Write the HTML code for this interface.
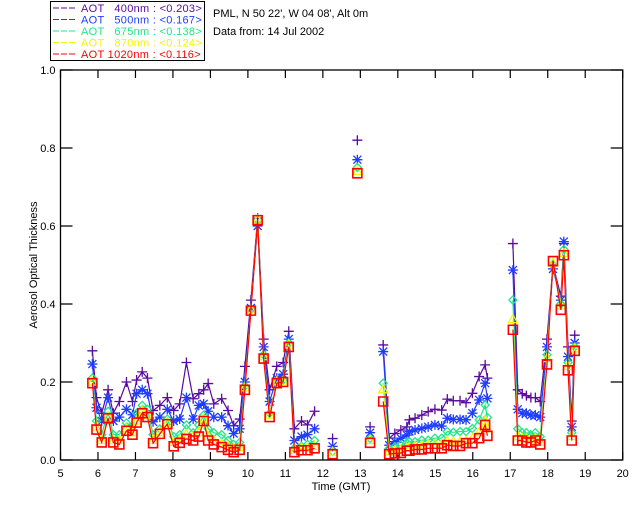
<!DOCTYPE html>
<html><head><meta charset="utf-8"><style>
body{margin:0;background:#fff;}
svg{display:block;font-family:"Liberation Sans",sans-serif;}
</style></head><body>
<svg id="chart" width="640" height="512" viewBox="0 0 640 512" xmlns="http://www.w3.org/2000/svg">
<rect width="640" height="512" fill="#fff"/>
<g id="legend">
<rect x="50.5" y="1.5" width="154" height="59" fill="#fff" stroke="#000" stroke-width="1"/>
</g>
<text x="213" y="17" font-size="11">PML, N 50 22', W 04 08', Alt 0m</text>
<text x="213" y="35" font-size="11">Data from: 14 Jul 2002</text>
<g id="axes"></g>
<g id="series"></g>
<text x="341" y="490" font-size="11" text-anchor="middle">Time (GMT)</text>
<text transform="translate(37,265) rotate(-90)" font-size="11" text-anchor="middle">Aerosol Optical Thickness</text>
</svg>
<script>
const times = [5.85,5.96,6.1,6.27,6.41,6.57,6.76,6.92,7.03,7.18,7.32,7.47,7.65,7.85,8.02,8.18,8.36,8.54,8.69,8.82,8.94,9.09,9.3,9.47,9.62,9.78,9.92,10.08,10.26,10.42,10.58,10.77,10.94,11.09,11.24,11.43,11.59,11.78,null,12.26,null,12.92,null,13.26,null,13.61,13.77,13.92,14.08,14.24,14.31,14.46,14.64,14.81,14.99,15.17,15.32,15.48,15.66,15.82,15.99,16.17,16.33,16.39,null,17.07,17.2,17.32,17.43,17.55,17.67,17.8,17.98,18.14,18.35,18.43,18.54,18.64,18.72];
const aot400 = [0.28,0.16,0.12,0.18,0.12,0.15,0.2,0.15,0.205,0.226,0.21,0.127,0.14,0.16,0.127,0.144,0.25,0.157,0.17,0.18,0.196,0.144,0.157,0.127,0.088,0.105,0.24,0.41,0.62,0.31,0.18,0.24,0.25,0.33,0.08,0.1,0.09,0.125,null,0.055,null,0.82,null,0.085,null,0.295,0.056,0.068,0.077,0.085,0.103,0.107,0.115,0.124,0.13,0.128,0.156,0.152,0.152,0.147,0.171,0.214,0.244,0.21,null,0.555,0.18,0.17,0.165,0.16,0.16,0.15,0.31,0.5,0.42,0.555,0.29,0.1,0.32];
const aot500 = [0.246,0.134,0.1,0.16,0.1,0.11,0.13,0.116,0.17,0.18,0.17,0.098,0.11,0.13,0.1,0.105,0.16,0.105,0.14,0.144,0.125,0.11,0.11,0.088,0.068,0.08,0.2,0.39,0.6,0.29,0.15,0.21,0.22,0.31,0.05,0.06,0.065,0.08,null,0.035,null,0.77,null,0.07,null,0.278,0.038,0.047,0.056,0.064,0.073,0.077,0.081,0.085,0.09,0.087,0.107,0.104,0.104,0.103,0.12,0.154,0.197,0.158,null,0.487,0.13,0.12,0.12,0.115,0.115,0.11,0.29,0.49,0.41,0.56,0.265,0.085,0.3];
const aot675 = [0.21,0.1,0.065,0.125,0.065,0.065,0.095,0.085,0.12,0.14,0.13,0.065,0.08,0.105,0.06,0.065,0.09,0.07,0.09,0.115,0.08,0.07,0.065,0.05,0.04,0.045,0.19,0.385,0.615,0.27,0.12,0.2,0.205,0.3,0.03,0.035,0.04,0.05,null,0.022,null,0.75,null,0.055,null,0.197,0.03,0.034,0.038,0.044,0.047,0.047,0.051,0.051,0.056,0.056,0.073,0.071,0.073,0.073,0.081,0.103,0.141,0.109,null,0.41,0.08,0.07,0.07,0.065,0.07,0.06,0.27,0.5,0.4,0.54,0.25,0.07,0.29];
const aot870 = [0.2,0.085,0.05,0.11,0.05,0.05,0.08,0.07,0.1,0.125,0.115,0.05,0.07,0.095,0.045,0.05,0.065,0.06,0.07,0.105,0.06,0.05,0.04,0.035,0.03,0.032,0.185,0.385,0.615,0.265,0.115,0.2,0.2,0.295,0.025,0.03,0.03,0.035,null,0.02,null,0.74,null,0.05,null,0.18,0.021,0.024,0.026,0.03,0.032,0.034,0.036,0.038,0.04,0.04,0.048,0.046,0.046,0.048,0.055,0.07,0.1,0.08,null,0.36,0.06,0.055,0.055,0.05,0.055,0.045,0.26,0.505,0.395,0.53,0.24,0.06,0.285];
const aot1020 = [0.197,0.078,0.045,0.107,0.045,0.04,0.075,0.065,0.096,0.12,0.11,0.043,0.067,0.092,0.035,0.044,0.054,0.05,0.06,0.1,0.05,0.04,0.033,0.026,0.02,0.026,0.18,0.383,0.615,0.26,0.11,0.197,0.2,0.29,0.02,0.025,0.025,0.03,null,0.015,null,0.735,null,0.044,null,0.15,0.015,0.017,0.018,0.024,0.024,0.027,0.027,0.03,0.03,0.03,0.038,0.036,0.036,0.043,0.043,0.056,0.09,0.062,null,0.334,0.05,0.05,0.045,0.045,0.05,0.04,0.245,0.51,0.385,0.525,0.23,0.05,0.28];
const seriesNames = ["400nm","500nm","675nm","870nm","1020nm"];
const seriesMeans = ["0.203","0.167","0.138","0.124","0.116"];
const xTicks = [5,6,7,8,9,10,11,12,13,14,15,16,17,18,19,20];
const yTicks = [0.0,0.2,0.4,0.6,0.8,1.0];

const NS="http://www.w3.org/2000/svg";
const X0=60.5,X1=622.7,Y0=460,Y1=70;
function xs(t){return X0+(t-5)/15*(X1-X0);}
function ys(v){return Y0-v*(Y0-Y1);}
function mk(tag,attrs,parent){const e=document.createElementNS(NS,tag);for(const k in attrs)e.setAttribute(k,attrs[k]);parent.appendChild(e);return e;}

const axes=document.getElementById('axes');
const frame=mk('rect',{x:X0,y:Y1,width:X1-X0,height:Y0-Y1,fill:'none',stroke:'#000','stroke-width':1.3},axes);


xTicks.forEach(t=>{
  const x=xs(t);
  const tk=mk('path',{d:`M${x},${Y0}v-8M${x},${Y1}v8`,stroke:'#000','stroke-width':1.2},axes);
  
  
  const lb=mk('text',{x:x,y:Y0+17,'font-size':11,'text-anchor':'middle'},axes);
  lb.textContent=t;
  
  
});
yTicks.forEach(v=>{
  const y=ys(v);
  const tk=mk('path',{d:`M${X0},${y}h12M${X1},${y}h-12`,stroke:'#000','stroke-width':1.2},axes);
  
  
  const lb=mk('text',{x:X0-5,y:y+4,'font-size':11,'text-anchor':'end'},axes);
  lb.textContent=v.toFixed(1);
  
  
});

const colors=["#5a0a9e","#1f3dff","#1ee68c","#f5f500","#ff0000"];
const markers=["plus","star","diamond","triangle","square"];
const allSeries=[aot400,aot500,aot675,aot870,aot1020];
const sg=document.getElementById('series');

function marker(kind,x,y,c,g){
  let d;
  if(kind==="plus")d=`M${x-5},${y}h10M${x},${y-5}v10`;
  else if(kind==="star")d=`M${x-5},${y}h10M${x},${y-5}v10M${x-4},${y-4}l8,8M${x-4},${y+4}l8,-8`;
  else if(kind==="diamond")d=`M${x},${y-4}l4,4l-4,4l-4,-4z`;
  else if(kind==="triangle")d=`M${x},${y-5}l4.5,8h-9z`;
  else d=`M${x-4.5},${y-4.5}h9v9h-9z`;
  const m=mk('path',{d:d,fill:'none',stroke:c,'stroke-width':kind==="square"?1.6:1.3},g);
  
  
}

allSeries.forEach((vals,si)=>{
  const g=mk('g',{},sg);
  
  
  let d="",pen=false;
  times.forEach((t,i)=>{
    if(t===null||vals[i]===null){pen=false;return;}
    d+=(pen?"L":"M")+xs(t).toFixed(1)+","+ys(vals[i]).toFixed(1);
    pen=true;
  });
  const ln=mk('path',{d:d,fill:'none',stroke:colors[si],'stroke-width':1.2},g);
  
  
  times.forEach((t,i)=>{
    if(t===null||vals[i]===null)return;
    marker(markers[si],xs(t),ys(vals[i]),colors[si],g);
  });
});

const lg=document.getElementById('legend');
seriesNames.forEach((n,i)=>{
  const y=8+i*11.5;
  const l=mk('path',{d:`M53,${y}h6M61,${y}h6M69,${y}h6`,stroke:colors[i],'stroke-width':1},lg);
  
  
  const tx=mk('text',{x:81,y:y+4,'font-size':11,fill:colors[i],'letter-spacing':'0.3'},lg);
  tx.textContent="AOT "+(n.length<6?"\u00a0\u00a0":"")+n+" : <"+seriesMeans[i]+">";
  
  
});
</script>
</body></html>
